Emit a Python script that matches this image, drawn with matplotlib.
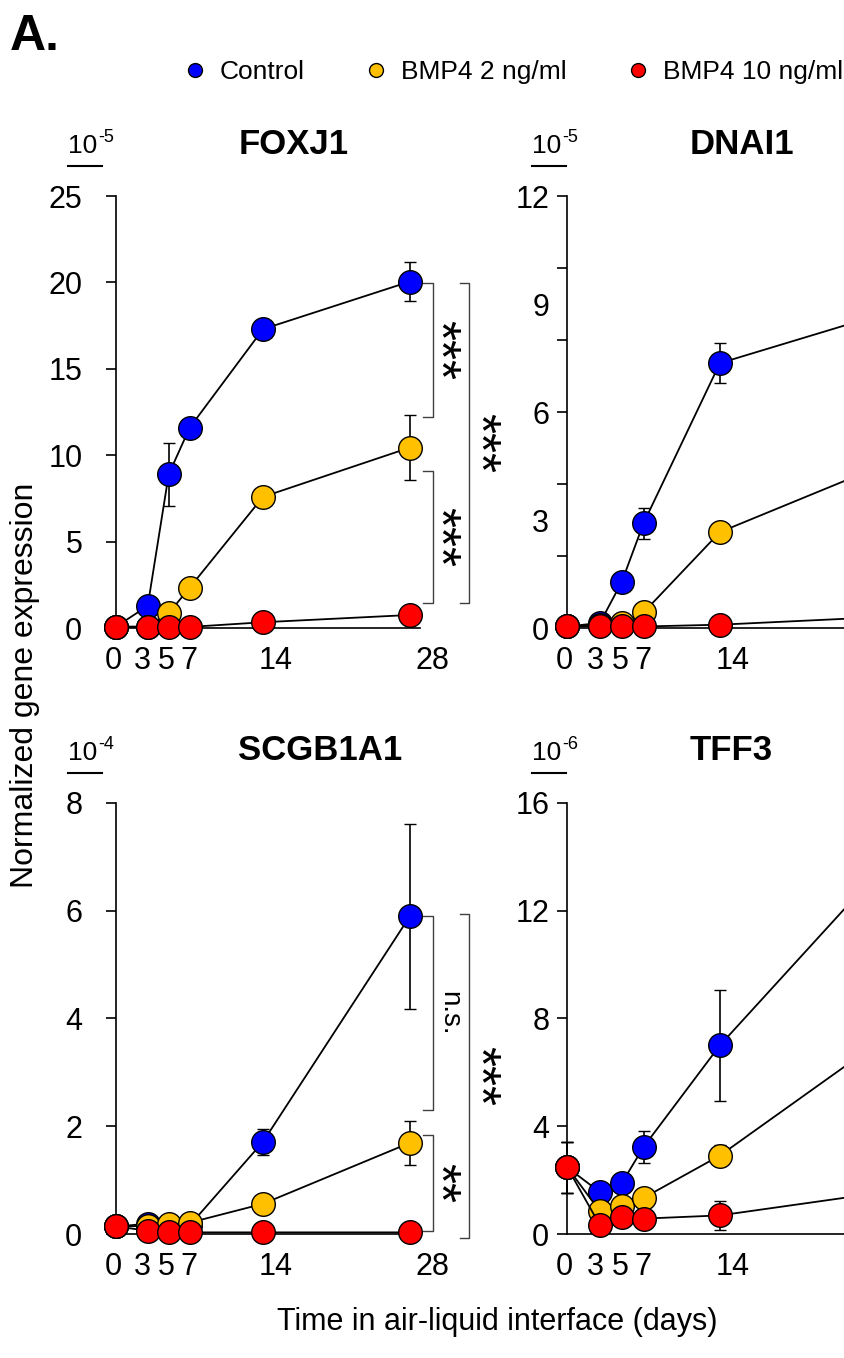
"""Time course of airway marker genes under BMP4 treatment

Four panels (FOXJ1, DNAI1, SCGB1A1, TFF3), mean +/- error per group,
saved as out.png
"""

import matplotlib
matplotlib.use('Agg')
import matplotlib.pyplot as plt
from matplotlib.lines import Line2D

plt.rcParams['font.family'] = 'Liberation Sans'

W, H = 844, 1358

DAYS = [0, 3, 5, 7, 14, 28]
GROUPS = ['Control', 'BMP4 2 ng/ml', 'BMP4 10 ng/ml']
COLORS = ['#0000ff', '#ffc000', '#ff0000']

# rows: Control, BMP4 2 ng/ml, BMP4 10 ng/ml
FOXJ1_MEAN = [[0.1, 1.3, 8.9, 11.6, 17.3, 20.05],
              [0.1, 0.1, 0.87, 2.35, 7.6, 10.45],
              [0.08, 0.08, 0.08, 0.08, 0.35, 0.77]]
FOXJ1_ERR = [[0, 0, 1.8, 0, 0, 1.15],
             [0, 0, 0, 0, 0.6, 1.9],
             [0, 0, 0, 0, 0, 0]]

DNAI1_MEAN = [[0.05, 0.15, 1.29, 2.92, 7.36, 8.64],
              [0.05, 0.08, 0.15, 0.44, 2.67, 4.41],
              [0.05, 0.05, 0.05, 0.05, 0.1, 0.3]]
DNAI1_ERR = [[0, 0, 0, 0.43, 0.55, 0],
             [0, 0, 0, 0, 0, 0],
             [0, 0, 0, 0, 0, 0]]

SCGB1A1_MEAN = [[0.14, 0.19, 0.15, 0.16, 1.71, 5.89],
                [0.14, 0.15, 0.19, 0.21, 0.56, 1.69],
                [0.14, 0.06, 0.03, 0.03, 0.03, 0.03]]
SCGB1A1_ERR = [[0, 0, 0, 0, 0.24, 1.72],
               [0, 0, 0, 0, 0, 0.41],
               [0, 0, 0, 0, 0, 0]]

TFF3_MEAN = [[2.47, 1.55, 1.89, 3.23, 7.0, 13.2],
             [2.47, 0.84, 1.03, 1.34, 2.91, 6.95],
             [2.47, 0.32, 0.63, 0.57, 0.69, 1.49]]
TFF3_ERR = [[0.95, 0, 0, 0.58, 2.05, 0],
            [0.95, 0, 0, 0, 0.4, 0],
            [0.95, 0, 0, 0, 0.53, 0]]

# (top, bottom, label, outer bracket?)
FOXJ1_STATS = [(19.95, 12.2, '***', False),
               (9.12, 1.48, '***', False),
               (19.95, 1.48, '***', True)]
SCGB1A1_STATS = [(5.9, 2.3, 'n.s.', False),
                 (1.84, 0.06, '**', False),
                 (5.94, -0.08, '***', True)]

# day-label nudges in pixels
XLABEL_SHIFT = [-3, -5, -2, -1, 13, 23]


def fig_rect(l, t, r, b):
    return [l / W, 1 - b / H, (r - l) / W, (b - t) / H]


def draw_panel(fig, box, mean, err, ymax, marks, labels, title, expo,
               label_gap, expo_dx, stats=None):
    l, t, r, b = box
    ax = fig.add_axes(fig_rect(l, t, r, b))
    px_per_day = (r - l) / 29

    for i in range(3):
        eb = ax.errorbar(DAYS, mean[i], yerr=err[i], color='black', lw=1.3,
                         marker='o', ms=17, mfc=COLORS[i], mec='black',
                         mew=1.0, capsize=4.5, elinewidth=1.2, capthick=1.2,
                         zorder=3 + i)
        eb[0].set_clip_on(False)
        for a in eb[1] + eb[2]:
            a.set_clip_on(False)

    ax.set_xlim(0, 29)
    ax.set_ylim(0, ymax)
    for s in ['top', 'right']:
        ax.spines[s].set_visible(False)
    for s in ['left', 'bottom']:
        ax.spines[s].set_linewidth(1.2)

    # tick marks on major, numbers on minor (they need not coincide)
    ax.yaxis.remove_overlapping_locs = False
    ax.set_xticks([])
    ax.set_yticks(marks)
    ax.set_yticklabels([])
    ax.set_yticks(labels, minor=True)
    ax.set_yticklabels([str(v) for v in labels], minor=True)
    ax.tick_params(axis='y', which='major', length=7, width=1.2,
                   direction='out')
    ax.tick_params(axis='y', which='minor', length=0, pad=label_gap,
                   labelsize=22)

    for d, dx in zip(DAYS, XLABEL_SHIFT):
        if l + d * px_per_day + dx + 18 > W:
            continue
        ax.annotate(str(d), xy=(d, 0), xycoords=('data', 'axes fraction'),
                    xytext=(dx, -33), textcoords='offset pixels',
                    ha='center', va='center', fontsize=22,
                    annotation_clip=False)

    fig.text((l + 122) / W, 1 - (t - 52) / H, title, fontsize=25,
             weight='bold', ha='left', va='center')

    # scale factor written above the axis
    x0 = l - expo_dx
    fig.text(x0 / W, 1 - (t - 43) / H, '10', fontsize=19,
             ha='left', va='baseline')
    fig.text((x0 + 30) / W, 1 - (t - 54) / H, expo, fontsize=13,
             ha='left', va='baseline')
    fig.add_artist(Line2D([x0 / W, (x0 + 34) / W],
                          [1 - (t - 30) / H, 1 - (t - 30) / H],
                          transform=fig.transFigure, color='black', lw=1.5))

    if stats:
        for top, bot, lab, outer in stats:
            xb = 33.7 if outer else 30.2
            ax.plot([xb - 0.9, xb, xb, xb - 0.9], [top, top, bot, bot],
                    color='#404040', lw=1.0, clip_on=False)
            if lab == 'n.s.':
                dx, size = 16, 20
            else:
                dx, size = (8 if outer else 4), 37
            ax.annotate(lab, xy=(xb, (top + bot) / 2), xytext=(dx, 0),
                        textcoords='offset pixels', rotation=270,
                        ha='center', va='center', fontsize=size,
                        annotation_clip=False)
    return ax


def main():
    fig = plt.figure(figsize=(W / 100, H / 100), dpi=100)

    draw_panel(fig, (116.3, 196, 420.2, 628.3), FOXJ1_MEAN, FOXJ1_ERR, 25,
               [0, 5, 10, 15, 20, 25], [0, 5, 10, 15, 20, 25], 'FOXJ1', '-5',
               24.5, 48, FOXJ1_STATS)
    draw_panel(fig, (567.3, 196, 883.4, 628.3), DNAI1_MEAN, DNAI1_ERR, 12,
               [0, 2, 4, 6, 8, 10, 12], [0, 3, 6, 9, 12], 'DNAI1', '-5',
               13, 35)
    draw_panel(fig, (116.3, 802.7, 420.2, 1234), SCGB1A1_MEAN, SCGB1A1_ERR,
               8, [0, 2, 4, 6, 8], [0, 2, 4, 6, 8], 'SCGB1A1', '-4',
               24.5, 48, SCGB1A1_STATS)
    draw_panel(fig, (567.3, 802.7, 883.4, 1234), TFF3_MEAN, TFF3_ERR, 16,
               [0, 4, 8, 12, 16], [0, 4, 8, 12, 16], 'TFF3', '-6',
               13, 35)

    handles = [Line2D([], [], ls='none', marker='o', ms=10, mfc=c,
                      mec='black', mew=1.0) for c in COLORS]
    fig.legend(handles, GROUPS, loc='center left',
               bbox_to_anchor=(184 / W, 1 - 72 / H), ncol=3, frameon=False,
               fontsize=19, handlelength=0.8, handletextpad=0.55,
               columnspacing=2.3, borderpad=0, borderaxespad=0)

    fig.text(10 / W, 1 - 37 / H, 'A.', fontsize=36, weight='bold',
             ha='left', va='center')
    fig.text(25 / W, 1 - 685 / H, 'Normalized gene expression', fontsize=23,
             rotation=90, ha='center', va='center')
    fig.text(497 / W, 1 - 1322 / H, 'Time in air-liquid interface (days)',
             fontsize=22, ha='center', va='center')

    fig.savefig('out.png', dpi=100)


if __name__ == "__main__":
    main()
